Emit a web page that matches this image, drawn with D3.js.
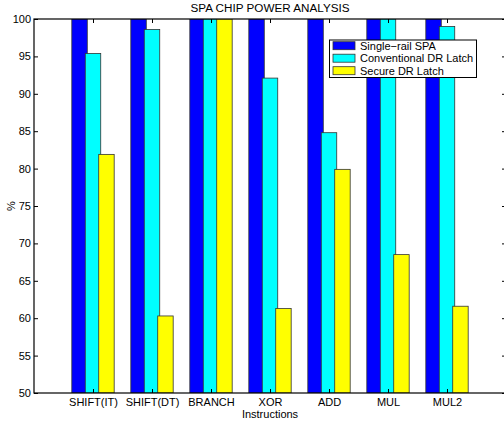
<!DOCTYPE html>
<html><head><meta charset="utf-8">
<script src="https://cdn.jsdelivr.net/npm/d3@7"></script>
<style>body{margin:0;background:#fff}svg{display:block}text{font-family:"Liberation Sans",Arial,Helvetica,sans-serif;fill:#000}</style>
</head><body>
<svg id="c" width="504" height="424"></svg>
<script>
const categories = ["SHIFT(IT)","SHIFT(DT)","BRANCH","XOR","ADD","MUL","MUL2"];
const seriesNames = ["Single\u2212rail SPA","Conventional DR Latch","Secure DR Latch"];
const singleRail = [100,100,100,100,100,100,100];
const convDR = [95.4,98.6,100,92.1,84.8,100,99.0];
const secureDR = [81.9,60.3,100,61.3,79.9,68.5,61.6];
const colors = ["#0000ff","#00ffff","#ffff00"];
const yTicks = [50,55,60,65,70,75,80,85,90,95,100];
const series = [singleRail, convDR, secureDR];

const svg = d3.select("#c");
const L = 34, R = 506, T = 19, B = 393;
const x = d3.scaleLinear().domain([0,8]).range([L,R]);
const y = d3.scaleLinear().domain([50,100]).range([B,T]);
const fs = "11px";

svg.append("defs").append("clipPath").attr("id","clip")
  .append("rect").attr("x",L).attr("y",T).attr("width",R-L).attr("height",B-T);

const g = svg.append("g").attr("clip-path","url(#clip)");
const bw = 0.262, off = 0.228;
series.forEach((s,si)=>{
  g.selectAll(null).data(s).enter().append("rect")
    .attr("x",(d,i)=>x(i+1+(si-1)*off-bw/2))
    .attr("width",x(bw)-x(0))
    .attr("y",d=>y(d))
    .attr("height",d=>B-y(d))
    .attr("fill",colors[si])
    .attr("stroke","#333").attr("stroke-width",0.8);
});

// axes
const ax = svg.append("g");
const yl = d3.axisLeft(y).tickValues(yTicks).tickSize(-4).tickPadding(3);
ax.append("g").attr("transform",`translate(${L},0)`).call(yl)
  .call(s=>{s.attr("font-family",null).attr("font-size",null);s.select(".domain").remove();s.selectAll("text").style("font-size",fs);s.selectAll("line").attr("stroke","#000");});
const yr = d3.axisRight(y).tickValues(yTicks).tickSize(-4).tickFormat("");
ax.append("g").attr("transform",`translate(${R},0)`).call(yr)
  .call(s=>{s.select(".domain").remove();s.selectAll("line").attr("stroke","#000");});
const xb = d3.axisBottom(x).tickValues(d3.range(1,8)).tickSize(-4).tickPadding(5).tickFormat(d=>categories[d-1]);
ax.append("g").attr("transform",`translate(0,${B})`).call(xb)
  .call(s=>{s.attr("font-family",null).attr("font-size",null);s.select(".domain").remove();s.selectAll("text").style("font-size",fs);s.selectAll("line").attr("stroke","#000");});
const xt = d3.axisTop(x).tickValues(d3.range(1,8)).tickSize(-4).tickFormat("");
ax.append("g").attr("transform",`translate(0,${T})`).call(xt)
  .call(s=>{s.select(".domain").remove();s.selectAll("line").attr("stroke","#000");});
ax.append("rect").attr("x",L).attr("y",T).attr("width",R-L).attr("height",B-T)
  .attr("fill","none").attr("stroke","#000").attr("stroke-width",1.2);

// labels
svg.append("text").attr("x",270).attr("y",12).attr("text-anchor","middle").style("font-size","11.7px").text("SPA CHIP POWER ANALYSIS");
svg.append("text").attr("x",270).attr("y",418).attr("text-anchor","middle").style("font-size",fs).text("Instructions");
svg.append("text").attr("transform","translate(15,206) rotate(-90)").attr("text-anchor","middle").style("font-size",fs).text("%");

// legend
const lg = svg.append("g");
lg.append("rect").attr("x",329.5).attr("y",40).attr("width",147).attr("height",37.5).attr("fill","#fff").attr("stroke","#000").attr("stroke-width",1);
seriesNames.forEach((n,i)=>{
  const cy = 45.7 + i*12.5;
  lg.append("rect").attr("x",333).attr("y",cy-4).attr("width",22).attr("height",8).attr("fill",colors[i]).attr("stroke","#333").attr("stroke-width",0.8);
  lg.append("text").attr("x",360).attr("y",cy+4).style("font-size",fs).text(n);
});
</script>
</body></html>
